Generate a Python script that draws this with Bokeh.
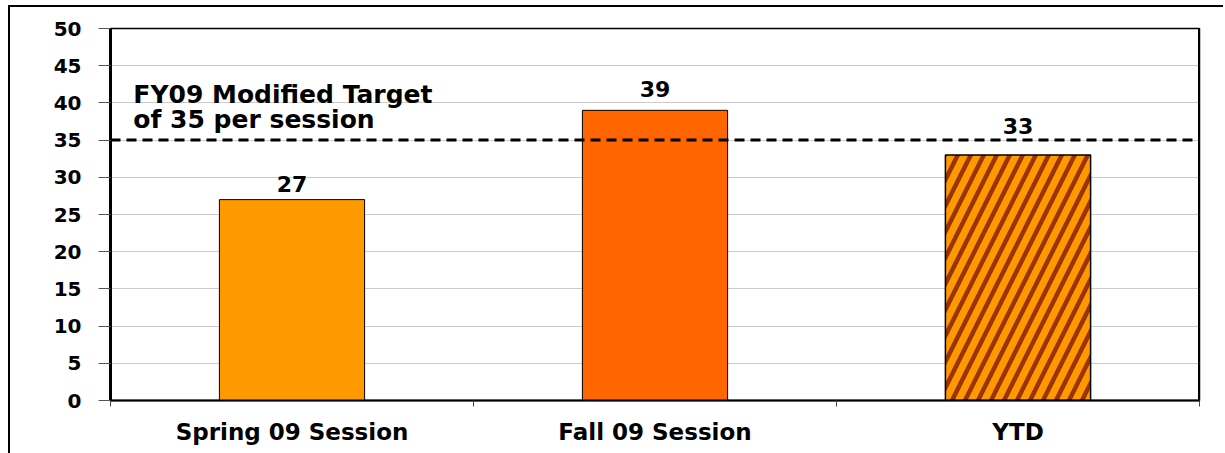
from bokeh.plotting import figure
from bokeh.models import Range1d, LinearAxis, Span, FixedTicker, ColumnDataSource
from bokeh.core.properties import value
from bokeh.embed import file_html
from bokeh.resources import INLINE

# data
categories = ["Spring 09 Session", "Fall 09 Session", "YTD"]
participants = [27, 39, 33]
bar_colors = ["#FF9900", "#FF6600", "#FF9900"]
target = 35
y_ticks = [0, 5, 10, 15, 20, 25, 30, 35, 40, 45, 50]
target_lines = ["FY09 Modified Target", "of 35 per session"]

# pixel offset of each value label above its bar top
label_offsets = [16, 21, 29]

FONT = "DejaVu Sans"
n = len(categories)
centers = [i + 0.5 for i in range(n)]

p = figure(x_range=Range1d(0, n), y_range=Range1d(0, 50),
           width=1215, height=448, output_backend="svg", toolbar_location=None,
           x_axis_location=None, y_axis_location=None,
           min_border_left=100, min_border_right=26, min_border_top=21, min_border_bottom=55,
           margin=(5, 0, 0, 8),
           styles={"border-top": "2px solid black", "border-left": "2px solid black"})

p.outline_line_color = "black"
p.outline_line_width = 1.5
p.xgrid.grid_line_color = None
p.ygrid.grid_line_color = "#cccccc"
p.ygrid.ticker = FixedTicker(ticks=y_ticks)

# y axis
yax = LinearAxis(ticker=FixedTicker(ticks=y_ticks))
yax.axis_line_width = 3
yax.axis_line_color = "black"
yax.major_tick_out = 12
yax.major_tick_in = 0
yax.major_tick_line_color = "#555555"
yax.minor_tick_line_color = None
yax.major_label_standoff = 17
yax.major_label_text_font = FONT
yax.major_label_text_font_style = "bold"
yax.major_label_text_font_size = "20px"
yax.major_label_text_color = "black"
p.add_layout(yax, "left")

# x axis: category names at centres, boundary ticks as minor ticks
cax = LinearAxis(ticker=FixedTicker(ticks=centers, minor_ticks=list(range(n + 1))),
                 major_label_overrides={c: name for c, name in zip(centers, categories)})
cax.axis_line_width = 2
cax.axis_line_color = "black"
cax.major_tick_line_color = None
cax.major_tick_out = 0
cax.major_tick_in = 0
cax.minor_tick_line_color = "#444444"
cax.minor_tick_out = 6
cax.minor_tick_in = 0
cax.major_label_standoff = 12
cax.major_label_text_font = FONT
cax.major_label_text_font_style = "bold"
cax.major_label_text_font_size = "23px"
cax.major_label_text_color = "black"
p.add_layout(cax, "below")

# thick right edge of the plot area
p.add_layout(Span(location=n, dimension="height", line_color="black", line_width=3))

# bars
src = ColumnDataSource(dict(x=centers[:2], val=participants[:2], color=bar_colors[:2]))
p.vbar(x="x", top="val", width=0.4, source=src, fill_color="color",
       line_color="black", line_width=1)
ytd = ColumnDataSource(dict(x=centers[2:], val=participants[2:]))
p.vbar(x="x", top="val", width=0.4, source=ytd, fill_color=bar_colors[2],
       line_color="black", line_width=1.5, hatch_pattern="/", hatch_color="#993300",
       hatch_scale=26, hatch_weight=4.5)

# target line
p.add_layout(Span(location=target, dimension="width", line_color="black",
                  line_width=3, line_dash="10 6"))

# value labels
for x, v, off in zip(centers, participants, label_offsets):
    p.text(x=[x], y=[v], text=[str(v)], text_align="center",
           text_baseline="alphabetic", y_offset=-off, text_font=value(FONT),
           text_font_style="bold", text_font_size="22px", text_color="black")

# target annotation
ann = ColumnDataSource(dict(x=[0.063, 0.063], y=[41.1, 37.8], txt=target_lines))
p.text(x="x", y="y", text="txt", source=ann,
       text_align="left", text_baseline="alphabetic", text_font=value(FONT),
       text_font_style="bold", text_font_size="25px", text_color="black")

open("out.html", "w").write(file_html(p, INLINE))
